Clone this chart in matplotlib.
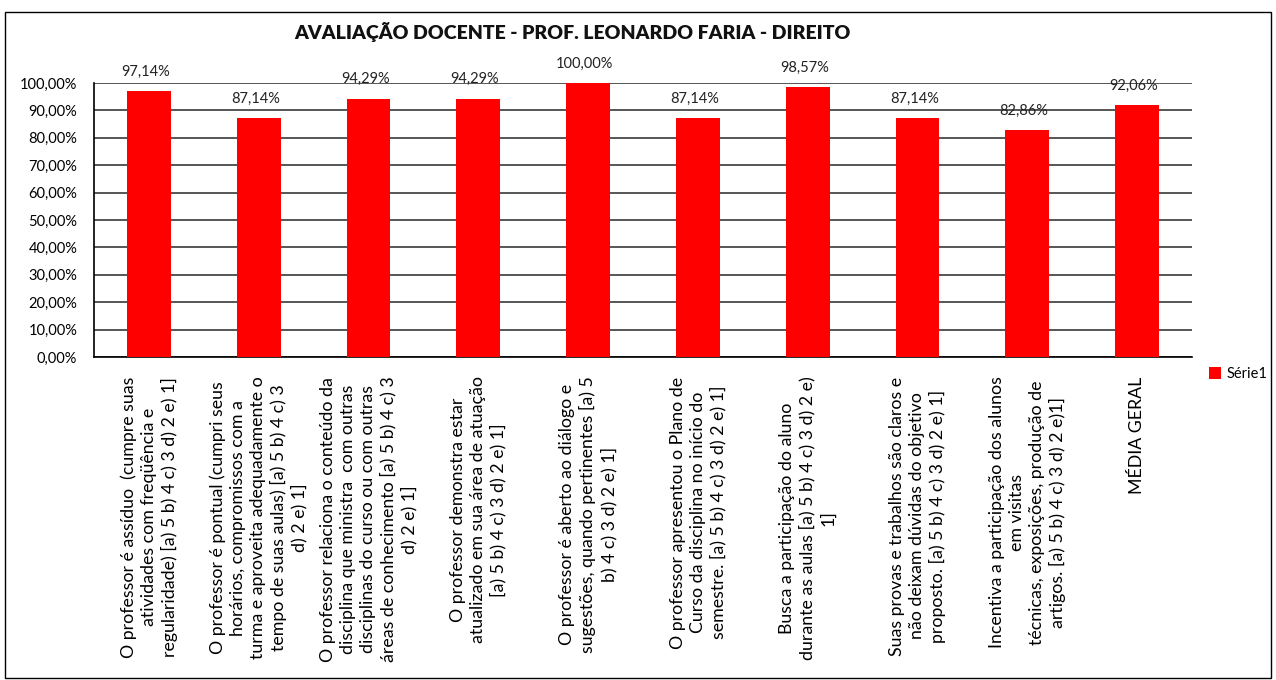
"""
Bar chart of the teaching evaluation for one professor (percent per question).
"""

import matplotlib.pyplot as plt
from matplotlib.patches import Rectangle
from matplotlib.ticker import FuncFormatter

plt.rcParams['font.family'] = ['Lato', 'DejaVu Sans']

TITLE = "AVALIAÇÃO DOCENTE - PROF. LEONARDO FARIA - DIREITO"
SERIES_NAME = "Série1"

questions = [
    "O professor é assíduo  (cumpre suas\natividades com freqüência e\nregularidade) [a) 5 b) 4 c) 3 d) 2 e) 1]",
    "O professor é pontual (cumpri seus\nhorários, compromissos com a\nturma e aproveita adequadamente o\ntempo de suas aulas) [a) 5 b) 4 c) 3\nd) 2 e) 1]",
    "O professor relaciona o conteúdo da\ndisciplina que ministra  com outras\ndisciplinas do curso ou com outras\náreas de conhecimento [a) 5 b) 4 c) 3\nd) 2 e) 1]",
    "O professor demonstra estar\natualizado em sua área de atuação\n[a) 5 b) 4 c) 3 d) 2 e) 1]",
    "O professor é aberto ao diálogo e\nsugestões, quando pertinentes [a) 5\nb) 4 c) 3 d) 2 e) 1]",
    "O professor apresentou o Plano de\nCurso da disciplina no início do\nsemestre. [a) 5 b) 4 c) 3 d) 2 e) 1]",
    "Busca a participação do aluno\ndurante as aulas [a) 5 b) 4 c) 3 d) 2 e)\n1]",
    "Suas provas e trabalhos são claros e\nnão deixam dúvidas do objetivo\nproposto. [a) 5 b) 4 c) 3 d) 2 e) 1]",
    "Incentiva a participação dos alunos\nem visitas\ntécnicas, exposições, produção de\nartigos. [a) 5 b) 4 c) 3 d) 2 e)1]",
    "MÉDIA GERAL",
]

scores = [97.14, 87.14, 94.29, 94.29, 100.00, 87.14, 98.57, 87.14, 82.86, 92.06]

y_ticks = [0, 10, 20, 30, 40, 50, 60, 70, 80, 90, 100]


def pct(v, _pos=None, decimals=2):
    return f"{v:.{decimals}f}".replace(".", ",") + "%"


fig = plt.figure(figsize=(12.76, 6.8), dpi=100)
fig.patches.append(Rectangle((5 / 1276, 2 / 680), 1266 / 1276, 666 / 680,
                             transform=fig.transFigure, fill=False,
                             edgecolor='black', linewidth=1))

ax = fig.add_axes([94 / 1276, 1 - 357 / 680, 1098 / 1276, 274 / 680])

x = list(range(len(scores)))
bars = ax.bar(x, scores, width=0.40, color='#FF0000', label=SERIES_NAME, zorder=3)

for xi, v in zip(x, scores):
    ax.text(xi - 0.03, v + 4.5, pct(v), ha='center', va='bottom', fontsize=10.5,
            color='#222222', zorder=4)

ax.set_xlim(-0.5, len(scores) - 0.5)
ax.set_ylim(0, 100)
ax.set_yticks(y_ticks)
ax.yaxis.set_major_formatter(FuncFormatter(pct))
ax.grid(axis='y', color='#3a3a3a', linewidth=1.2, zorder=0)
ax.tick_params(axis='y', length=0, labelsize=10.5, pad=12)
ax.tick_params(axis='x', length=0, pad=14)

ax.set_xticks(x)
ax.set_xticklabels(questions, rotation=90, fontsize=12.8, linespacing=1.3,
                   multialignment='center', va='top', ha='center')

for side in ['top', 'right']:
    ax.spines[side].set_visible(False)
ax.spines['left'].set_linewidth(1.2)
ax.spines['bottom'].set_linewidth(1.2)

fig.text(572 / 1276, 1 - 32 / 680, TITLE, ha='center', va='center',
         fontsize=14, fontweight='heavy', color='#111111')

fig.legend(handles=[bars], labels=[SERIES_NAME], loc='center left',
           bbox_to_anchor=(1196 / 1276, 1 - 374 / 680), frameon=False,
           fontsize=10.5, handlelength=0.8, handleheight=0.8, handletextpad=0.4)

fig.savefig("out.png", dpi=100)
